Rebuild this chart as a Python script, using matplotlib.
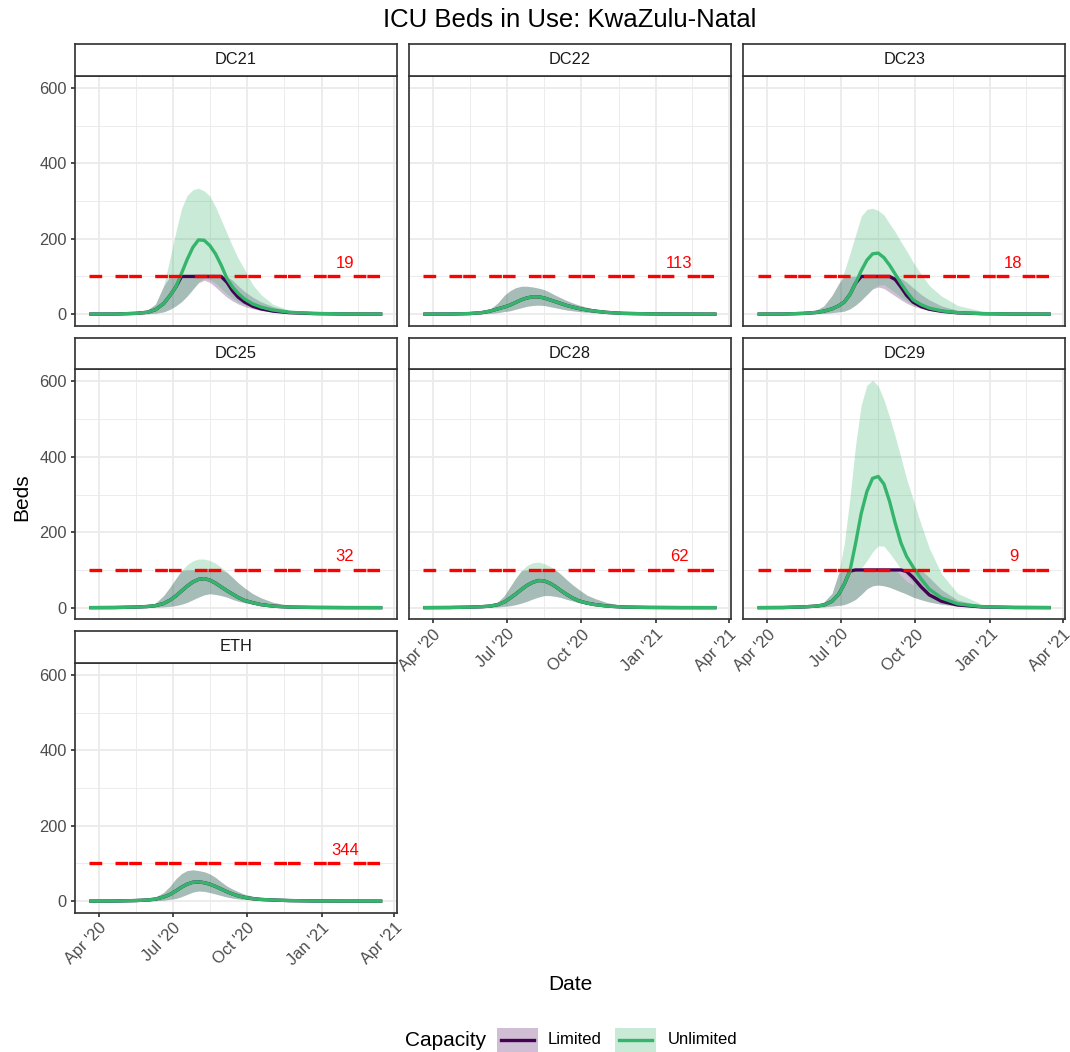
import numpy as np
import pandas as pd
import matplotlib
matplotlib.use("Agg")
import matplotlib.pyplot as plt
import matplotlib.dates as mdates
from matplotlib.patches import Rectangle
from matplotlib.lines import Line2D

plt.rcParams["font.family"] = ["Liberation Sans", "DejaVu Sans"]
plt.rcParams["lines.scale_dashes"] = False

# ---------------------------------------------------------------- data
dates = pd.to_datetime([
    "2020-03-20", "2020-04-21", "2020-05-16", "2020-05-31", "2020-06-10",
    "2020-06-20", "2020-06-28", "2020-07-05", "2020-07-12", "2020-07-19",
    "2020-07-26", "2020-08-02", "2020-08-09", "2020-08-16", "2020-08-23",
    "2020-08-30", "2020-09-06", "2020-09-13", "2020-09-20", "2020-09-28",
    "2020-10-08", "2020-10-18", "2020-11-02", "2020-11-22", "2020-12-22",
    "2021-01-31", "2021-03-17",
])

regions = ["DC21", "DC22", "DC23", "DC25", "DC28", "DC29", "ETH"]
icu_capacity = [19, 113, 18, 32, 62, 9, 344]
capacity_line = 100
label_date = pd.Timestamp("2021-01-30")
label_y = 135

# DC21
dc21_unl_med = [0, 0.3, 2, 5, 12, 28, 50, 72, 108, 145, 177, 197, 196, 182, 160, 130, 95, 72, 55, 40, 27, 19, 11, 5, 2, 0.5, 0.2]
dc21_unl_hi = [0, 0.5, 3, 11, 27, 75, 150, 218, 280, 315, 330, 334, 327, 313, 285, 250, 215, 180, 148, 118, 78, 52, 26, 11, 3, 1, 0.3]
dc21_unl_lo = [0, 0, 0.5, 1, 2.5, 6, 13, 22, 33, 48, 66, 85, 95, 92, 82, 68, 54, 42, 32, 25, 17, 12, 7, 3, 1, 0.3, 0]
dc21_lim_med = [0, 0.3, 2, 5, 12, 28, 50, 72, 100, 100, 100, 100, 100, 100, 100, 100, 85, 62, 45, 32, 21, 14, 8, 4, 1.5, 0.4, 0.2]
dc21_lim_hi = [0, 0.5, 3, 11, 27, 75, 100, 100, 100, 100, 100, 100, 100, 100, 100, 100, 100, 90, 75, 60, 45, 33, 20, 9, 3, 1, 0.3]
dc21_lim_lo = [0, 0, 0.5, 1, 2.5, 6, 13, 22, 33, 48, 66, 83, 90, 84, 72, 58, 45, 35, 27, 20, 14, 10, 6, 2.5, 1, 0.3, 0]

# DC22
dc22_unl_med = [0, 0.3, 1.5, 4, 8, 14, 19, 24, 31, 38, 43, 46, 46, 43, 38, 33, 28, 23, 19, 15, 11, 8, 4.5, 2, 0.8, 0.2, 0]
dc22_unl_hi = [0, 0.5, 3, 5, 12, 30, 50, 62, 70, 74, 74, 72, 69, 65, 58, 50, 43, 36, 30, 24, 18, 13, 8, 4, 1.5, 0.5, 0.2]
dc22_unl_lo = [0, 0, 0.5, 1, 2, 4, 7, 9, 13, 17, 21, 23, 24, 23, 20, 17, 14, 11, 9, 7, 5, 3.5, 2, 1, 0.3, 0, 0]

# DC23
dc23_unl_med = [0, 0.3, 2, 4.5, 8, 14, 22, 32, 52, 82, 115, 143, 160, 162, 150, 130, 106, 82, 60, 38, 25, 16, 9, 4, 1.5, 0.4, 0.1]
dc23_unl_hi = [0, 0.5, 4, 10, 22, 50, 80, 113, 160, 210, 260, 278, 281, 275, 263, 240, 218, 192, 168, 138, 106, 76, 48, 23, 8, 2, 0.5]
dc23_unl_lo = [0, 0, 0.5, 1, 2, 4, 6, 8, 14, 24, 37, 52, 67, 77, 78, 68, 57, 45, 35, 25, 17, 12, 7, 3, 1, 0.2, 0]
dc23_lim_med = [0, 0.3, 2, 4.5, 8, 14, 22, 32, 52, 82, 100, 100, 100, 100, 100, 100, 92, 72, 50, 32, 20, 13, 7.5, 3.5, 1.3, 0.3, 0.1]
dc23_lim_hi = [0, 0.5, 4, 10, 22, 50, 80, 100, 100, 100, 100, 100, 100, 100, 100, 100, 100, 95, 85, 70, 52, 38, 22, 10, 3, 1, 0.3]
dc23_lim_lo = [0, 0, 0.5, 1, 2, 4, 6, 8, 14, 24, 37, 52, 67, 72, 68, 58, 48, 38, 29, 21, 15, 10, 6, 2.5, 0.8, 0.2, 0]

# DC25
dc25_unl_med = [0, 0.3, 1.5, 3, 5.5, 11, 20, 31, 44, 57, 68, 75, 77, 73, 65, 55, 45, 36, 27, 19, 13, 8, 4, 1.5, 0.5, 0.1, 0]
dc25_unl_hi = [0, 0.5, 3, 5, 12, 32, 55, 77, 98, 114, 124, 129, 129, 125, 118, 107, 94, 80, 66, 52, 37, 26, 14, 6, 2, 0.5, 0.1]
dc25_unl_lo = [0, 0, 0.3, 0.7, 1.2, 2.2, 3.5, 5.5, 9, 14, 21, 28, 34, 37, 35, 32, 28, 22, 17, 13, 9, 6, 3, 1.3, 0.4, 0.1, 0]
dc25_lim_hi = [0, 0.5, 3, 5, 12, 32, 55, 77, 98, 100, 100, 100, 100, 100, 100, 100, 94, 80, 66, 52, 37, 26, 14, 6, 2, 0.5, 0.1]

# DC28
dc28_unl_med = [0, 0.3, 1.3, 2.5, 4, 8, 15, 25, 36, 48, 59, 67, 72, 71, 65, 56, 45, 35, 26, 18, 12, 8, 4.2, 1.6, 0.5, 0.1, 0]
dc28_unl_hi = [0, 0.4, 2.5, 4, 6, 15, 32, 55, 78, 98, 112, 119, 121, 117, 110, 101, 88, 74, 61, 48, 33, 24, 13, 5.5, 1.8, 0.4, 0.1]
dc28_unl_lo = [0, 0, 0.3, 0.6, 1, 2, 3.5, 5, 8, 12, 17, 23, 28, 32, 32, 30, 27, 22, 18, 13, 9, 6.5, 3.5, 1.4, 0.4, 0.1, 0]
dc28_lim_hi = [0, 0.4, 2.5, 4, 6, 15, 32, 55, 78, 98, 100, 100, 100, 100, 100, 100, 88, 74, 61, 48, 33, 24, 13, 5.5, 1.8, 0.4, 0.1]

# DC29
dc29_unl_med = [0, 0.3, 2, 4, 7, 17, 35, 62, 97, 170, 250, 308, 343, 348, 328, 282, 224, 172, 136, 108, 76, 49, 26, 10, 2.5, 0.5, 0.1]
dc29_unl_hi = [0, 0.5, 4, 7, 15, 38, 91, 168, 290, 430, 538, 590, 603, 588, 552, 505, 454, 398, 342, 288, 220, 158, 90, 38, 9, 2, 0.4]
dc29_unl_lo = [0, 0, 0.5, 1, 2, 4, 6, 8, 14, 22, 35, 50, 58, 60, 58, 54, 48, 42, 36, 28, 21, 15, 9, 4, 1, 0.2, 0]
nan = np.nan
dc29_unl_gap_lo = [nan] * 10 + [100, 100, 100, 100, 100, 100, 100, 85, 70, 60] + [nan] * 7
dc29_unl_gap_hi = [nan] * 10 + [104, 125, 148, 164, 163, 145, 124, 102, 88, 66] + [nan] * 7
dc29_lim_med = [0, 0.3, 2, 4, 7, 17, 35, 62, 97, 100, 100, 100, 100, 100, 100, 100, 100, 100, 96, 80, 55, 34, 17, 7, 2, 0.4, 0.1]
dc29_lim_hi = [0, 0.5, 4, 7, 15, 38, 91, 100, 100, 100, 100, 100, 100, 100, 100, 100, 100, 100, 100, 100, 100, 80, 48, 20, 5, 1, 0.2]
dc29_lim_lo = [0, 0, 0.5, 1, 2, 4, 6, 8, 14, 22, 35, 50, 58, 60, 58, 54, 48, 42, 36, 28, 21, 15, 9, 4, 1, 0.2, 0]

# ETH
eth_unl_med = [0, 0.3, 1.5, 3, 5.5, 11, 18, 27, 37, 45, 50, 51, 49, 45, 39, 32, 25, 19, 14, 10, 6.5, 4.5, 3, 1.5, 0.5, 0.1, 0]
eth_unl_hi = [0, 0.4, 2.5, 5, 11, 23, 40, 59, 73, 81, 83, 81, 78, 72, 63, 51, 40, 32, 25, 18, 13, 9, 5, 2.5, 0.8, 0.2, 0]
eth_unl_lo = [0, 0, 0.3, 0.7, 1.2, 2.5, 5, 7, 12, 18, 24, 27, 26, 23, 19, 15, 11, 8, 6, 4.5, 3, 2, 1, 0.5, 0.1, 0, 0]

series = {
    "DC21": dict(unl=(dc21_unl_lo, dc21_unl_med, dc21_unl_hi), lim=(dc21_lim_lo, dc21_lim_med, dc21_lim_hi)),
    "DC22": dict(unl=(dc22_unl_lo, dc22_unl_med, dc22_unl_hi), lim=(dc22_unl_lo, dc22_unl_med, dc22_unl_hi)),
    "DC23": dict(unl=(dc23_unl_lo, dc23_unl_med, dc23_unl_hi), lim=(dc23_lim_lo, dc23_lim_med, dc23_lim_hi)),
    "DC25": dict(unl=(dc25_unl_lo, dc25_unl_med, dc25_unl_hi), lim=(dc25_unl_lo, dc25_unl_med, dc25_lim_hi)),
    "DC28": dict(unl=(dc28_unl_lo, dc28_unl_med, dc28_unl_hi), lim=(dc28_unl_lo, dc28_unl_med, dc28_lim_hi)),
    "DC29": dict(unl=(dc29_unl_lo, dc29_unl_med, dc29_unl_hi), lim=(dc29_lim_lo, dc29_lim_med, dc29_lim_hi),
                 gap=(dc29_unl_gap_lo, dc29_unl_gap_hi)),
    "ETH": dict(unl=(eth_unl_lo, eth_unl_med, eth_unl_hi), lim=(eth_unl_lo, eth_unl_med, eth_unl_hi)),
}

# ---------------------------------------------------------------- style
LIM_COL = "#440154"
UNL_COL = "#35B46C"
LIM_ALPHA = 0.25
UNL_ALPHA = 0.27
GRID_COL = "#EBEBEB"
FRAME_COL = "#333333"
TICK_TXT = "#4D4D4D"
RED = "#FF0000"

FIG_W, FIG_H = 1070, 1052
fig = plt.figure(figsize=(FIG_W / 100, FIG_H / 100), dpi=100)
fig.patch.set_facecolor("white")


def rect(x, y, w, h):
    """Pixel box (top-left origin) -> figure fraction rect."""
    return [x / FIG_W, 1 - (y + h) / FIG_H, w / FIG_W, h / FIG_H]


col_left = [74.5, 408.7, 742.9]
row_top = [75.5, 369.0, 662.5]
PW, PH, SH = 322.5, 250.0, 31.5

span = dates[-1] - dates[0]
xlim = (dates[0] - span * 0.05, dates[-1] + span * 0.05)
ymax = max(max(series[r]["unl"][2]) for r in regions)
ylim = (-0.05 * ymax, 1.05 * ymax)

major_x = pd.to_datetime(["2020-04-01", "2020-07-01", "2020-10-01", "2021-01-01", "2021-04-01"])
minor_x = major_x[:-1] + (major_x[1:] - major_x[:-1]) / 2

bottom_panels = {"DC28", "DC29", "ETH"}

for i, reg in enumerate(regions):
    r, c = divmod(i, 3)
    ax = fig.add_axes(rect(col_left[c], row_top[r], PW, PH))
    ax.set_xlim(xlim)
    ax.set_ylim(ylim)
    ax.set_facecolor("white")

    ax.set_xticks(major_x)
    ax.set_xticks(minor_x, minor=True)
    ax.set_yticks([0, 200, 400, 600])
    ax.set_yticks([100, 300, 500], minor=True)
    ax.xaxis.set_major_formatter(mdates.DateFormatter("%b '%y"))
    ax.grid(which="major", color=GRID_COL, lw=1.3, zorder=0)
    ax.grid(which="minor", color=GRID_COL, lw=0.65, zorder=0)
    ax.set_axisbelow(True)
    for s in ax.spines.values():
        s.set_color(FRAME_COL)
        s.set_linewidth(1.22)
        s.set_zorder(10)

    ax.tick_params(which="minor", length=0)
    ax.tick_params(which="major", length=3.1, width=1.22, color=FRAME_COL,
                   labelsize=11.8, labelcolor=TICK_TXT, pad=2.5)
    if c != 0:
        ax.tick_params(axis="y", length=0, labelleft=False)
    if reg not in bottom_panels:
        ax.tick_params(axis="x", length=0, labelbottom=False)
    else:
        for lab in ax.get_xticklabels():
            lab.set_rotation(45)
            lab.set_ha("right")
            lab.set_va("top")
            lab.set_rotation_mode("anchor")

    d = series[reg]
    lim_lo, lim_med, lim_hi = (np.asarray(v, float) for v in d["lim"])
    unl_lo, unl_med, unl_hi = (np.asarray(v, float) for v in d["unl"])

    ax.fill_between(dates, lim_lo, lim_hi, color=LIM_COL, alpha=LIM_ALPHA, lw=0, zorder=2)
    if "gap" in d:
        g_lo, g_hi = (np.asarray(v, float) for v in d["gap"])
        split_lo = np.where(np.isnan(g_lo), unl_hi, g_lo)
        split_hi = np.where(np.isnan(g_hi), unl_hi, g_hi)
        ax.fill_between(dates, unl_lo, split_lo, color=UNL_COL, alpha=UNL_ALPHA, lw=0, zorder=3)
        ax.fill_between(dates, split_hi, unl_hi, color=UNL_COL, alpha=UNL_ALPHA, lw=0, zorder=3)
    else:
        ax.fill_between(dates, unl_lo, unl_hi, color=UNL_COL, alpha=UNL_ALPHA, lw=0, zorder=3)

    ax.plot(dates, lim_med, color=LIM_COL, lw=2.4, zorder=4, solid_capstyle="butt")
    ax.plot(dates, unl_med, color=UNL_COL, lw=2.4, zorder=5, solid_capstyle="butt")

    ax.plot([dates[0], dates[-1]], [capacity_line, capacity_line], color=RED, lw=2.4,
            linestyle=(9.86, (9.14, 0.72, 9.14, 9.58)), dash_capstyle="butt", zorder=6)
    ax.text(label_date, label_y, str(icu_capacity[i]), color=RED, fontsize=12,
            ha="center", va="center", zorder=7)

    # facet strip
    sax = fig.add_axes(rect(col_left[c], row_top[r] - SH, PW, SH))
    sax.set_facecolor("white")
    sax.set_xticks([])
    sax.set_yticks([])
    for s in sax.spines.values():
        s.set_color(FRAME_COL)
        s.set_linewidth(1.22)
    sax.text(0.5, 0.5, reg, transform=sax.transAxes, ha="center", va="center",
             fontsize=11.8, color="#1A1A1A")

# titles
fig.text(570 / FIG_W, 1 - 20 / FIG_H, "ICU Beds in Use: KwaZulu-Natal",
         ha="center", va="center", fontsize=18.5, color="black")
fig.text(570 / FIG_W, 1 - 985 / FIG_H, "Date", ha="center", va="center", fontsize=15)
fig.text(22 / FIG_W, 1 - 497 / FIG_H, "Beds", ha="center", va="center",
         rotation=90, fontsize=15)

# legend
ly = 1040
fig.text(405 / FIG_W, 1 - ly / FIG_H, "Capacity", ha="left", va="center", fontsize=15)
for kx, col, alpha, name, tx in [(497, LIM_COL, LIM_ALPHA, "Limited", 548),
                                 (615, UNL_COL, UNL_ALPHA, "Unlimited", 668)]:
    fig.add_artist(Rectangle((kx / FIG_W, 1 - 1052 / FIG_H), 41 / FIG_W, 24 / FIG_H,
                             transform=fig.transFigure, facecolor=col, alpha=alpha, lw=0))
    fig.add_artist(Line2D([(kx + 4) / FIG_W, (kx + 37) / FIG_W], [1 - ly / FIG_H] * 2,
                          transform=fig.transFigure, color=col, lw=2.4))
    fig.text(tx / FIG_W, 1 - ly / FIG_H, name, ha="left", va="center", fontsize=12)

fig.savefig("out.png", dpi=100, facecolor="white")
